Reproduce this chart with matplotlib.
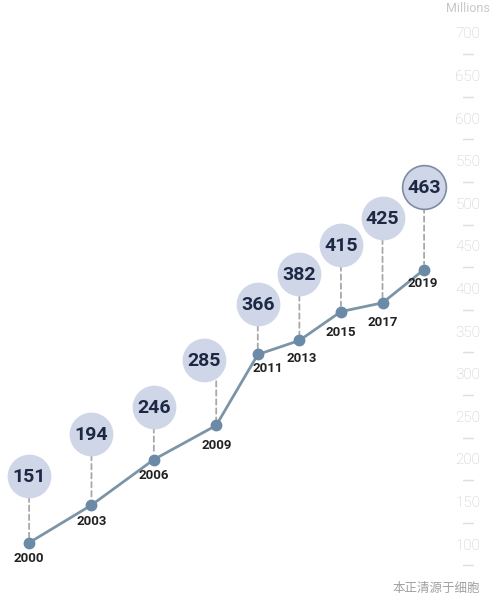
import matplotlib
matplotlib.use("Agg")
import matplotlib.pyplot as plt
from matplotlib.transforms import offset_copy
import numpy as np

# Data
years = [2000, 2003, 2006, 2009, 2011, 2013, 2015, 2017, 2019]
values = [151, 194, 246, 285, 366, 382, 415, 425, 463]
scale_ticks = list(range(100, 701, 50))
scale_minor = list(range(75, 676, 50))

# Layout of the labels (pixel offsets from each point)
BUBBLE_OFFSETS = [(0, 67), (0, 71), (0, 53), (-12, 65), (0, 50), (0, 66), (0, 67), (0, 85), (0, 83)]
YEAR_OFFSETS = [(0, -16), (0, -16), (0, -16), (0, -20), (10, -14), (2, -18), (0, -21), (0, -20), (-1, -14)]

LINE_COLOR = "#7c95a6"
DOT_COLOR = "#6a8aa8"
BUBBLE_FILL = "#cfd6e7"
BUBBLE_TEXT = "#1d2944"
DASH_COLOR = "#a8a8a8"
SCALE_COLOR = "#c8c8c8"

NUM_FONT = "Roboto"

fig = plt.figure(figsize=(4.9, 6.09), dpi=100)
fig.patch.set_facecolor("white")

# Main plotting area (axis hidden, labels carry the values)
ax = fig.add_axes([0, 0, 1, 1])
ax.set_xlim(1998.6, 2022.17)
ax.set_ylim(75.3, 770.9)
ax.axis("off")

ax.plot(years, values, "-", color=LINE_COLOR, lw=2.0, zorder=2)
ax.plot(years, values, "o", color=DOT_COLOR, ms=7.5, zorder=3)

for i, (yr, v) in enumerate(zip(years, values)):
    dx, dy = BUBBLE_OFFSETS[i]
    # dashed connector
    ax.annotate("", xy=(yr, v), xytext=(0, dy), textcoords="offset pixels",
                arrowprops=dict(arrowstyle="-", color=DASH_COLOR, lw=1.3,
                                linestyle=(0, (3, 2)), shrinkA=15, shrinkB=4),
                zorder=1)
    tr = offset_copy(ax.transData, fig=fig, x=dx, y=dy, units="dots")
    last = i == len(years) - 1
    ax.plot(yr, v, "o", ms=31.5, color=BUBBLE_FILL,
            mec="#7d8ca6" if last else BUBBLE_FILL, mew=1.2 if last else 0,
            transform=tr, zorder=4)
    ax.text(yr, v, str(v), transform=offset_copy(tr, fig=fig, x=0, y=-1, units="dots"),
            ha="center", va="center", fontsize=14, fontweight="bold",
            family=NUM_FONT, color=BUBBLE_TEXT, zorder=5)
    ldx, ldy = YEAR_OFFSETS[i]
    ax.text(yr, v, str(yr), transform=offset_copy(ax.transData, fig=fig, x=ldx, y=ldy, units="dots"),
            ha="center", va="center", fontsize=9.5, fontweight="bold",
            family=NUM_FONT, color="#222222", zorder=5)

# Right-hand scale
sc = fig.add_axes([463 / 490, 0, 11 / 490, 1])
sc.set_xlim(0, 1)
sc.set_ylim(23.7, 738.7)
for s in sc.spines.values():
    s.set_visible(False)
sc.set_xticks([])
sc.set_yticks(scale_ticks)
sc.set_yticks(scale_minor, minor=True)
sc.tick_params(axis="y", which="both", length=0, pad=-3.5, labelsize=11, labelcolor=SCALE_COLOR)
for t in sc.get_yticklabels():
    t.set_ha("center")
    t.set_family("Roboto")
    t.set_fontweight("light")
sc.grid(which="minor", axis="y", color="#dedede", lw=1)
sc.set_facecolor("none")

fig.text(446 / 490, 1 - 8 / 609, "Millions", ha="left", va="center",
         fontsize=9, color=SCALE_COLOR, family="Roboto")

# watermark
fig.text(392 / 490, 1 - 588 / 609, "本正清源于细胞", ha="left", va="center",
         fontsize=9, color="#a0a0a0", family=["Noto Sans CJK SC", "DejaVu Sans"])

fig.savefig("out.png", dpi=100, facecolor="white")
plt.close(fig)
